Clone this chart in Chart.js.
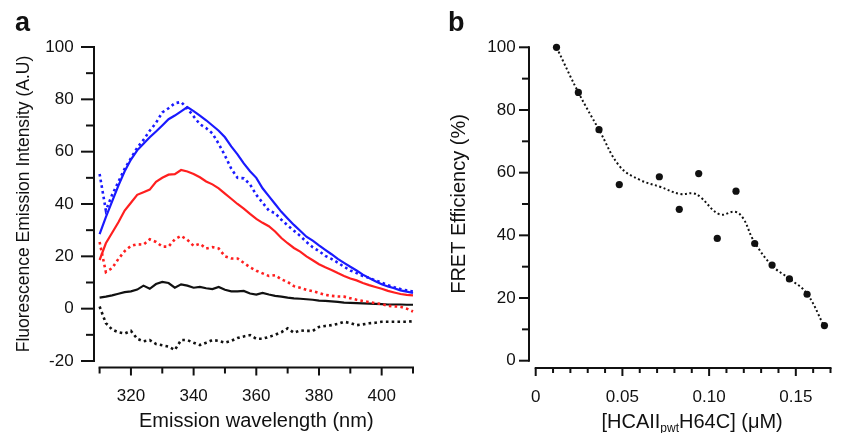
<!DOCTYPE html>
<html>
<head>
<meta charset="utf-8">
<script src="https://cdn.jsdelivr.net/npm/chart.js@4.4.0/dist/chart.umd.min.js"></script>
<style>
  body { margin: 0; background: #fff; width: 844px; height: 433px; overflow: hidden; position: relative; font-family: "Liberation Sans", Arial, sans-serif; }
  canvas { position: absolute; top: 0; }
  #chartA { left: 0; }
  #chartB { left: 422px; }
  .panel-label { position: absolute; font-weight: bold; font-size: 27px; line-height: 27px; color: #111; z-index: 2; }
</style>
</head>
<body>
<div class="panel-label" style="left:15px;top:9px">a</div>
<div class="panel-label" style="left:448px;top:9px">b</div>
<canvas id="chartA" width="422" height="433"></canvas>
<canvas id="chartB" width="422" height="433"></canvas>
<script>
// ---- panel a: emission spectra (nm vs A.U) ----
const wavelengths = [310, 312, 314, 316, 318, 320, 322, 324, 326, 328, 330, 332, 334, 336, 338, 340, 342, 344, 346, 348,
  350, 352, 354, 356, 358, 360, 362, 364, 366, 368, 370, 372, 374, 376, 378, 380, 382, 384, 386, 388,
  390, 392, 394, 396, 398, 400, 402, 404, 406, 408, 410];

const blueSolid = [28.5, 35, 41, 47, 52.5, 57, 60.5, 63, 65.5, 67.7, 70, 72.4, 73.8, 75.4, 77, 75.5, 73.8, 72, 70, 68,
  65.5, 62, 59, 55.5, 52.5, 50, 46, 43, 40, 37, 34.5, 32, 29.8, 27.5, 26, 24.2, 22.5, 20.8, 19, 17.5,
  16, 14.6, 13, 11.7, 10.5, 9.3, 8.5, 7.8, 7, 6.5, 6];
const blueDashed = [51.5, 37.5, 43.5, 48.5, 53.5, 57.5, 61.5, 64.5, 68, 71, 75, 76.6, 78.5, 79, 76.5, 73.5, 70.5, 69, 67, 63,
  58.5, 53.5, 50, 49.8, 47.5, 43.5, 40.5, 37.5, 36.5, 34, 31.8, 29.8, 27.8, 25.5, 23.5, 22, 20.2, 19, 17.6, 16,
  14.6, 13.6, 12.5, 11.8, 10.8, 10, 9, 8.2, 7.5, 7, 6.5];
const redSolid = [18.6, 25, 29, 33, 37.5, 40.5, 43.5, 44.5, 45.5, 48.5, 50, 51.2, 51.4, 53, 52.4, 51.5, 50.2, 48.6, 47.5, 46,
  44, 42, 40, 38.2, 36.2, 34.3, 32.8, 31.5, 29.5, 27, 25, 23.2, 21.8, 20, 18.5, 17, 15.8, 14.8, 13.6, 12.5,
  11.5, 10.8, 9.8, 9, 8.3, 7.6, 6.8, 6.2, 5.6, 5.3, 5.1];
const redDashed = [25.5, 14, 15.5, 19, 22, 24, 24.6, 24.5, 26.5, 25.5, 23.7, 23.7, 26.5, 27.8, 26.3, 24, 24.8, 23, 23.5, 23,
  20, 19.2, 19.2, 17.5, 15.8, 14.5, 13.5, 12.5, 12.8, 11.2, 10.2, 8.6, 8, 7.2, 6.7, 6, 5.3, 4.9, 4.7, 4.6,
  4, 3.4, 2.9, 2.5, 2.1, 1.8, 1.1, 0.9, 0.7, 0, -1.1];
const blackSolid = [4.2, 4.6, 5.1, 5.7, 6.3, 6.6, 7.3, 8.8, 7.6, 9.4, 10.2, 9.8, 8, 9.3, 8.8, 8, 8.3, 7.8, 7.5, 8.3,
  7.2, 6.6, 6.6, 6.8, 5.8, 5.4, 6, 5.4, 4.9, 4.6, 4.2, 3.9, 3.8, 3.6, 3.4, 3.1, 3, 2.8, 2.6, 2.3,
  2.2, 2.1, 2, 1.9, 1.8, 1.7, 1.6, 1.6, 1.6, 1.5, 1.5];
const blackDashed = [0.8, -5.5, -8, -9, -9.5, -8.5, -11.5, -12.5, -12, -13.5, -14, -14.5, -15.8, -12, -12, -13, -13.9, -13, -12, -12.3,
  -13, -12.3, -11.2, -10.6, -10.1, -11.5, -11.5, -10.8, -10, -9, -7.5, -9.2, -8.3, -8.5, -8.5, -7, -6.6, -6.3, -5.8, -5,
  -5.5, -6.3, -6, -5.6, -5.4, -5, -5, -5, -5, -5, -4.8];

// ---- panel b: FRET efficiency vs concentration ----
const concentration = [0.012, 0.0246, 0.0365, 0.0482, 0.0713, 0.0828, 0.094, 0.1047, 0.1155, 0.1263, 0.1363, 0.1463, 0.1565, 0.1665];
const fretEfficiency = [100, 85.6, 73.7, 56.2, 58.7, 48.3, 59.7, 39.0, 54.1, 37.4, 30.5, 26.1, 21.2, 11.2];
const fitX = [0.012, 0.0246, 0.0365, 0.0486, 0.0601, 0.0717, 0.0832, 0.0909, 0.0948, 0.106, 0.1149, 0.1197, 0.1255, 0.136, 0.1467, 0.1563, 0.166];
const fitY = [100, 85.6, 73.7, 61.9, 57.7, 55.5, 53.2, 53.4, 52.3, 46.7, 47.5, 45.4, 38.5, 30.5, 26, 21.5, 11.4];

const FONT = '"Liberation Sans", Arial, sans-serif';
Chart.defaults.font.family = FONT;
Chart.defaults.font.size = 17;
Chart.defaults.color = '#111';

const toPoints = (xs, ys) => xs.map((x, i) => ({ x: x, y: ys[i] }));

// axes are drawn detached from the plot area, like the original figure
const detachedAxes = {
  id: 'detachedAxes',
  afterDraw(chart, args, opts) {
    const ctx = chart.ctx;
    const area = chart.chartArea;
    const xs = chart.scales.x, ys = chart.scales.y;
    ctx.save();
    ctx.strokeStyle = '#111';
    ctx.lineWidth = 2;
    ctx.lineCap = 'butt';
    const line = (x1, y1, x2, y2) => { ctx.beginPath(); ctx.moveTo(x1, y1); ctx.lineTo(x2, y2); ctx.stroke(); };

    const ax = area.left - opts.gapY;
    line(ax, ys.getPixelForValue(ys.max) - 1, ax, ys.getPixelForValue(ys.min) + 1);
    ys.ticks.forEach(t => {
      const py = ys.getPixelForValue(t.value);
      const len = t.label !== '' ? opts.yMajor : opts.yMinor;
      line(ax - len, py, ax, py);
    });

    const ay = area.bottom + opts.gapX;
    line(xs.getPixelForValue(xs.min) - 1, ay, xs.getPixelForValue(xs.max) + 1, ay);
    xs.ticks.forEach(t => {
      const px = xs.getPixelForValue(t.value);
      const len = t.label !== '' ? opts.xMajor : opts.xMinor;
      line(px, ay, px, ay + len);
    });
    ctx.restore();
  }
};

// x title with a subscript (panel b)
const subTitle = {
  id: 'subTitle',
  afterDraw(chart, args, opts) {
    if (!opts.parts) return;
    const ctx = chart.ctx;
    const area = chart.chartArea;
    ctx.save();
    ctx.fillStyle = '#111';
    ctx.textBaseline = 'alphabetic';
    let total = 0;
    opts.parts.forEach(p => {
      ctx.font = (p.sub ? opts.subSize : opts.size) + 'px ' + FONT;
      p.w = ctx.measureText(p.text).width;
      total += p.w;
    });
    let x = (area.left + area.right) / 2 + opts.shift - total / 2;
    opts.parts.forEach(p => {
      ctx.font = (p.sub ? opts.subSize : opts.size) + 'px ' + FONT;
      ctx.fillText(p.text, x, opts.baseline + (p.sub ? opts.subDrop : 0));
      x += p.w;
    });
    ctx.restore();
  }
};

function spectrum(label, values, color, dashed) {
  return {
    label: label,
    data: toPoints(wavelengths, values),
    borderColor: color,
    borderWidth: dashed ? 2.6 : 2.2,
    borderDash: dashed ? [2.6, 3.2] : [],
    pointRadius: 0,
    tension: 0,
    fill: false,
    clip: 4
  };
}

const chartA = new Chart(document.getElementById('chartA'), {
  type: 'line',
  data: {
    datasets: [
      spectrum('blue solid', blueSolid, '#1a1aff', false),
      spectrum('blue dashed', blueDashed, '#1a1aff', true),
      spectrum('red solid', redSolid, '#ff1f1f', false),
      spectrum('red dashed', redDashed, '#ff1f1f', true),
      spectrum('black solid', blackSolid, '#111', false),
      spectrum('black dashed', blackDashed, '#111', true)
    ]
  },
  options: {
    responsive: false,
    animation: false,
    devicePixelRatio: 1,
    layout: { padding: { top: 47, right: 9, bottom: 0, left: 0 } },
    plugins: {
      legend: { display: false },
      tooltip: { enabled: false },
      detachedAxes: { gapY: 5.6, gapX: 6.5, yMajor: 13, yMinor: 8, xMajor: 8, xMinor: 6 }
    },
    scales: {
      x: {
        type: 'linear', min: 310, max: 410,
        afterFit: s => { s.height = 72; },
        border: { display: false },
        grid: { display: true, drawOnChartArea: false, drawTicks: true, tickLength: 18, tickColor: 'transparent' },
        ticks: {
          stepSize: 10, maxTicksLimit: 50, autoSkip: false, maxRotation: 0, padding: 7,
          callback: v => (v % 20 === 0 ? String(v) : '')
        },
        title: { display: true, text: 'Emission wavelength (nm)', font: { size: 20 }, padding: { top: 0, bottom: 0 } }
      },
      y: {
        min: -20, max: 100,
        afterFit: s => { s.width = 99.6; },
        border: { display: false },
        grid: { display: true, drawOnChartArea: false, drawTicks: true, tickLength: 19, tickColor: 'transparent' },
        ticks: {
          stepSize: 10, maxTicksLimit: 50, autoSkip: false, padding: 7,
          callback: v => (v % 20 === 0 ? String(v) : '')
        },
        title: { display: true, text: 'Fluorescence Emission Intensity (A.U)', font: { size: 17.5 }, padding: { top: 14, bottom: 0 } }
      }
    }
  },
  plugins: [detachedAxes]
});

const chartB = new Chart(document.getElementById('chartB'), {
  type: 'scatter',
  data: {
    datasets: [
      {
        label: 'fit',
        data: toPoints(fitX, fitY),
        showLine: true,
        borderColor: '#111',
        borderWidth: 2,
        borderDash: [2, 2.5],
        pointRadius: 0,
        tension: 0.4,
        clip: false
      },
      {
        label: 'FRET efficiency',
        data: toPoints(concentration, fretEfficiency),
        showLine: false,
        pointRadius: 3.6,
        pointBackgroundColor: '#111',
        pointBorderColor: '#111',
        pointBorderWidth: 0,
        clip: false
      }
    ]
  },
  options: {
    responsive: false,
    animation: false,
    devicePixelRatio: 1,
    layout: { padding: { top: 47.3, right: 13.5, bottom: 0, left: 0 } },
    plugins: {
      legend: { display: false },
      tooltip: { enabled: false },
      detachedAxes: { gapY: 6.7, gapX: 7.3, yMajor: 10, yMinor: 7, xMajor: 8, xMinor: 5 },
      subTitle: {
        parts: [{ text: '[HCAII' }, { text: 'pwt', sub: true }, { text: 'H64C] (μM)' }],
        size: 20, subSize: 12, subDrop: 4, baseline: 428, shift: 9
      }
    },
    scales: {
      x: {
        type: 'linear', min: 0, max: 0.17,
        afterFit: s => { s.height = 72.3; },
        border: { display: false },
        grid: { display: true, drawOnChartArea: false, drawTicks: true, tickLength: 19, tickColor: 'transparent' },
        ticks: {
          stepSize: 0.01, maxTicksLimit: 50, autoSkip: false, maxRotation: 0, padding: 7,
          callback: v => {
            const k = Math.round(v * 100);
            if (k % 5 !== 0) return '';
            return k === 0 ? '0' : (k / 100).toFixed(2);
          }
        },
        title: { display: false }
      },
      y: {
        min: 0, max: 100,
        afterFit: s => { s.width = 113.7; },
        border: { display: false },
        grid: { display: true, drawOnChartArea: false, drawTicks: true, tickLength: 13, tickColor: 'transparent' },
        ticks: {
          stepSize: 10, maxTicksLimit: 50, autoSkip: false, padding: 7,
          callback: v => (v % 20 === 0 ? String(v) : '')
        },
        title: { display: true, text: 'FRET Efficiency (%)', font: { size: 20 }, padding: { top: 25, bottom: 0 } }
      }
    }
  },
  plugins: [detachedAxes, subTitle]
});
</script>
</body>
</html>
